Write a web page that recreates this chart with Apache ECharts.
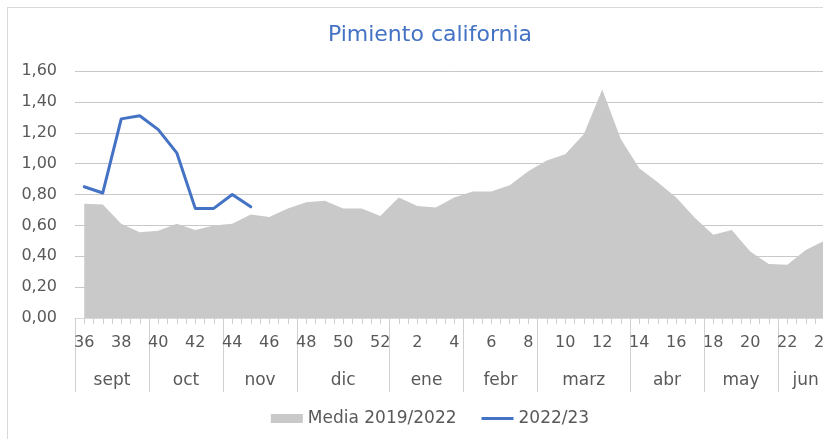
<!DOCTYPE html>
<html>
<head>
<meta charset="utf-8">
<script src="https://cdn.jsdelivr.net/npm/echarts@6/dist/echarts.min.js"></script>
<style>
  html, body { margin: 0; padding: 0; background: #fff; overflow: hidden; }
  #frame { position: absolute; left: 7px; top: 7px; width: 846px; height: 520px; border: 1px solid #d9d9d9; }
  #chart { position: absolute; left: 0; top: 0; width: 860px; height: 439px; }
</style>
</head>
<body>
<div id="frame"></div>
<div id="chart"></div>
<script>
// semanas de campaña (36 -> 24)
const weeks = ['36', '37', '38', '39', '40', '41', '42', '43', '44', '45', '46', '47',
  '48', '49', '50', '51', '52', '1', '2', '3', '4', '5', '6', '7', '8', '9', '10',
  '11', '12', '13', '14', '15', '16', '17', '18', '19', '20', '21', '22', '23', '24'];

const months = ['sept', 'oct', 'nov', 'dic', 'ene', 'febr', 'marz', 'abr', 'may', 'jun'];
const monthWeeks = [4, 4, 4, 5, 4, 4, 5, 4, 4, 3];

const media = [0.74, 0.735, 0.61, 0.555, 0.565, 0.61, 0.57, 0.60, 0.61, 0.67, 0.655, 0.71,
  0.75, 0.76, 0.71, 0.71, 0.66,
  0.78, 0.725, 0.715, 0.78, 0.82, 0.82, 0.86, 0.95, 1.02, 1.06, 1.19, 1.48, 1.16,
  0.97, 0.88, 0.78, 0.65, 0.54, 0.57, 0.43, 0.35, 0.345, 0.44, 0.50];

const campaign = [0.85, 0.81, 1.29, 1.31, 1.22, 1.07, 0.71, 0.71, 0.80, 0.72];

// month boundaries / centres in week units
const monthBounds = [0];
const monthCenters = [];
monthWeeks.forEach(n => {
  const start = monthBounds[monthBounds.length - 1];
  monthCenters.push(start + n / 2);
  monthBounds.push(start + n);
});

const grey = '#595959';
const font = 'DejaVu Sans';
const tickColor = '#d0d0d0';
// plain line icon for the legend (no symbol dot)
const lineIcon = 'path://M0,0L32,0L32,0.01Z M0,3L32,3L32,6L0,6Z M0,9L32,9L32,9.01Z';

const chart = echarts.init(document.getElementById('chart'));

chart.setOption({
  animation: false,
  title: {
    text: 'Pimiento california',
    left: 'center',
    top: 19,
    textStyle: { color: '#4472C4', fontFamily: font, fontWeight: 'normal', fontSize: 22 }
  },
  legend: {
    top: 405,
    left: 'center',
    itemWidth: 32,
    itemHeight: 9,
    itemGap: 25,
    textStyle: { color: grey, fontFamily: font, fontSize: 17 },
    data: [
      { name: 'Media 2019/2022', icon: 'rect' },
      { name: '2022/23', icon: lineIcon, itemStyle: { color: '#4472C4' } }
    ]
  },
  grid: {
    left: 75,
    top: 71,
    width: weeks.length * 18.5,
    height: 247,
    outerBoundsMode: 'none'
  },
  xAxis: [
    {
      type: 'category',
      position: 'bottom',
      data: weeks,
      boundaryGap: true,
      axisLine: { lineStyle: { color: '#d9d9d9' } },
      axisTick: { interval: 1, length: 36, lineStyle: { color: tickColor } },
      axisLabel: { interval: 1, margin: 17, color: grey, fontFamily: font, fontSize: 16 }
    },
    {
      type: 'value',
      position: 'bottom',
      min: 0,
      max: weeks.length,
      interval: 0.5,
      axisLine: { show: false },
      axisTick: { show: true, length: 6, lineStyle: { color: tickColor } },
      axisLabel: { show: false },
      splitLine: { show: false }
    },
    {
      type: 'value',
      position: 'bottom',
      min: 0,
      max: weeks.length,
      axisLine: { show: false },
      axisTick: { show: true, customValues: monthBounds, length: 74, lineStyle: { color: tickColor } },
      axisLabel: {
        customValues: monthCenters,
        margin: 54,
        color: grey,
        fontFamily: font,
        fontSize: 17,
        formatter: v => months[monthCenters.indexOf(v)]
      },
      splitLine: { show: false }
    }
  ],
  yAxis: {
    type: 'value',
    min: 0,
    max: 1.6,
    interval: 0.2,
    axisLine: { show: false },
    axisTick: { show: false },
    splitLine: { lineStyle: { color: '#c8c8c8' } },
    axisLabel: {
      margin: 18,
      color: grey,
      fontFamily: font,
      fontSize: 16,
      formatter: v => v.toFixed(2).replace('.', ',')
    }
  },
  series: [
    {
      name: 'Media 2019/2022',
      type: 'line',
      xAxisIndex: 0,
      data: media,
      symbol: 'none',
      lineStyle: { width: 0 },
      itemStyle: { color: '#c9c9c9' },
      areaStyle: { color: '#c9c9c9', opacity: 1 }
    },
    {
      name: '2022/23',
      type: 'line',
      xAxisIndex: 0,
      data: campaign,
      symbol: 'none',
      z: 5,
      itemStyle: { color: '#4472C4' },
      lineStyle: { color: '#4472C4', width: 3, cap: 'round', join: 'round' }
    }
  ]
});
</script>
</body>
</html>
